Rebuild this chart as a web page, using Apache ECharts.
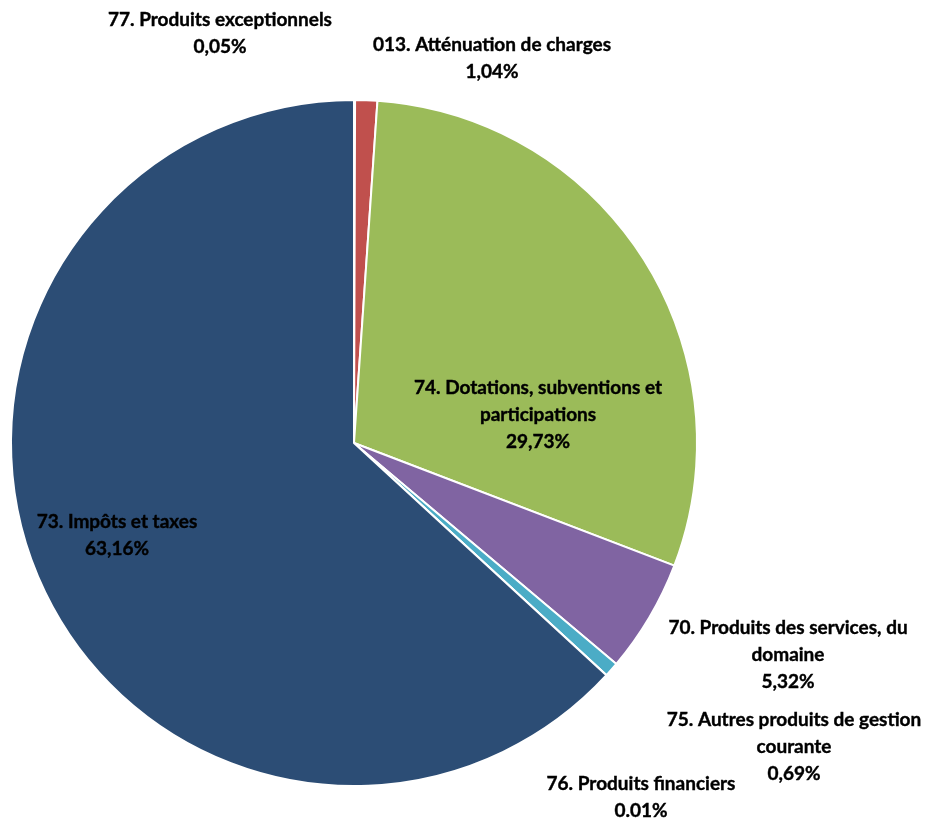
<!DOCTYPE html>
<html><head><meta charset="utf-8">
<script src="https://cdn.jsdelivr.net/npm/echarts@6/dist/echarts.min.js"></script>
<style>html,body{margin:0;padding:0;background:#fff}#c{width:936px;height:818px}</style>
</head><body><div id="c"></div>
<script>
const categories = ["77. Produits exceptionnels","013. Atténuation de charges","74. Dotations, subventions et participations","70. Produits des services, du domaine","75. Autres produits de gestion courante","76. Produits financiers","73. Impôts et taxes"];
const values = [0.05, 1.04, 29.73, 5.32, 0.69, 0.01, 63.16];
const labelTexts = [
  "77. Produits exceptionnels\n0,05%",
  "013. Atténuation de charges\n1,04%",
  "74. Dotations, subventions et\nparticipations\n29,73%",
  "70. Produits des services, du\ndomaine\n5,32%",
  "75. Autres produits de gestion\ncourante\n0,69%",
  "76. Produits financiers\n0.01%",
  "73. Impôts et taxes\n63,16%"
];
const colors = ["#F79646","#C0504D","#9BBB59","#8064A2","#4BACC6","#4F81BD","#2C4D75"];
const labelPos = [[220,33],[492,58],[538,415],[788,655],[794,747],[641,797],[117,535]];

const chart = echarts.init(document.getElementById('c'));
chart.setOption({
  animation:false,
  series:[{
    type:'pie',
    center:[354,443],
    radius:[0,343],
    startAngle:90,
    clockwise:true,
    avoidLabelOverlap:false,
    itemStyle:{borderColor:'#fff',borderWidth:2},
    label:{show:true,position:'outside',formatter:p=>labelTexts[p.dataIndex],
      fontFamily:'Lato',fontWeight:'bold',fontSize:19,lineHeight:27,color:'#000',align:'center',
      textBorderColor:'#000',textBorderWidth:0.4},
    labelLine:{show:false},
    labelLayout:function(p){const q=labelPos[p.dataIndex];return {x:q[0],y:q[1],align:'center',verticalAlign:'middle'};},
    data:categories.map((n,i)=>({name:n,value:values[i],itemStyle:{color:colors[i]}}))
  }]
});
</script></body></html>
